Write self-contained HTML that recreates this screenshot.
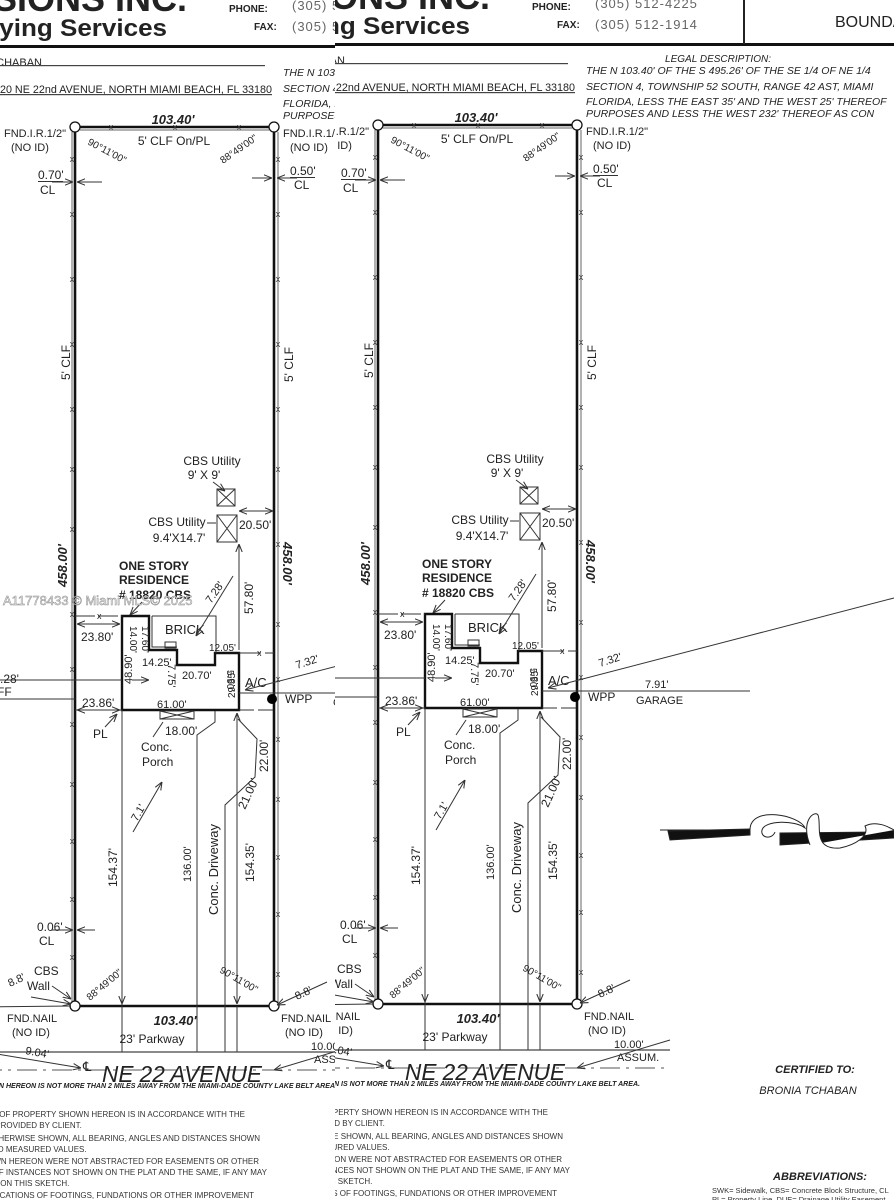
<!DOCTYPE html>
<html><head><meta charset="utf-8"><style>
html,body{margin:0;padding:0;background:#fff;}
svg{display:block;font-family:"Liberation Sans",sans-serif;}
</style></head><body>
<svg width="894" height="1200" viewBox="0 0 894 1200" xmlns="http://www.w3.org/2000/svg">
<defs>
<marker id="a" viewBox="0 0 10 10" refX="10" refY="5" markerWidth="8" markerHeight="8" orient="auto-start-reverse"><path d="M0,1 L10,5 L0,9" fill="none" stroke="#333" stroke-width="1.3"/></marker>
<clipPath id="cl"><rect x="0" y="0" width="335" height="1200"/></clipPath>
<clipPath id="cr"><rect x="335" y="0" width="559" height="1200"/></clipPath>
<g id="d" fill="#222" font-size="11">
 <text x="490" y="9" font-size="36" font-weight="bold" text-anchor="end">DIMENSIONS INC.</text>
 <text x="470" y="34" font-size="24" text-anchor="end" font-weight="bold" textLength="240" lengthAdjust="spacingAndGlyphs">Surveying Services</text>
 <text x="532" y="10" font-size="10" font-weight="bold">PHONE:</text>
 <text x="557" y="28" font-size="10" font-weight="bold">FAX:</text>
 <text x="595" y="8" font-size="13" fill="#666" letter-spacing="1">(305) 512-4225</text>
 <text x="595" y="29" font-size="13" fill="#666" letter-spacing="1">(305) 512-1914</text>
 <rect x="200" y="43" width="694" height="3" fill="#111"/>
 <text x="345" y="64" font-size="11" text-anchor="end">BRONIA TCHABAN</text>
 <rect x="200" y="63" width="368" height="1.2" fill="#444"/>
 <text x="575" y="91" font-size="11" text-anchor="end" textLength="290" lengthAdjust="spacingAndGlyphs">18820 NE 22nd AVENUE, NORTH MIAMI BEACH, FL 33180</text>
 <rect x="200" y="92" width="375" height="1.2" fill="#444"/>
 <g font-style="italic" font-size="10.5">
 <text x="718" y="62" text-anchor="middle" font-size="10">LEGAL DESCRIPTION:</text>
 <text x="586" y="74">THE N 103.40' OF THE S 495.26' OF THE SE 1/4 OF NE 1/4</text>
 <text x="586" y="90">SECTION 4, TOWNSHIP 52 SOUTH, RANGE 42 AST, MIAMI</text>
 <text x="586" y="105">FLORIDA, LESS THE EAST 35' AND THE WEST 25' THEREOF</text>
 <text x="586" y="117">PURPOSES AND LESS THE WEST 232' THEREOF AS CON</text>
 </g>
 <g stroke="#111" stroke-width="2.6" fill="none">
  <line x1="378" y1="125" x2="577" y2="125"/>
  <line x1="378" y1="125" x2="378" y2="1004"/>
  <line x1="577" y1="125" x2="577" y2="1004"/>
  <line x1="378" y1="1004" x2="577" y2="1004"/>
 </g>
 <g stroke="#666" stroke-width="1" fill="none">
  <line x1="375" y1="130" x2="375" y2="1000"/>
  <line x1="581" y1="130" x2="581" y2="1000"/>
  <line x1="383" y1="128" x2="572" y2="128"/>
 </g>
 <g font-size="9" fill="#444" text-anchor="middle">
  <text x="414" y="128">x</text><text x="478" y="128">x</text><text x="542" y="128">x</text>
  <text x="375" y="160">x</text><text x="375" y="215">x</text><text x="375" y="280">x</text><text x="375" y="345">x</text><text x="375" y="410">x</text><text x="375" y="470">x</text><text x="375" y="530">x</text><text x="375" y="615">x</text><text x="375" y="670">x</text><text x="375" y="725">x</text><text x="375" y="785">x</text><text x="375" y="842">x</text><text x="375" y="900">x</text><text x="375" y="958">x</text>
  <text x="581" y="160">x</text><text x="581" y="215">x</text><text x="581" y="280">x</text><text x="581" y="345">x</text><text x="581" y="410">x</text><text x="581" y="470">x</text><text x="581" y="545">x</text><text x="581" y="625">x</text><text x="581" y="680">x</text><text x="581" y="740">x</text><text x="581" y="800">x</text><text x="581" y="858">x</text><text x="581" y="915">x</text><text x="581" y="975">x</text>
 </g>
 <g fill="#fff" stroke="#111" stroke-width="1.3">
  <circle cx="378" cy="125" r="5"/><circle cx="577" cy="125" r="5"/>
  <circle cx="378" cy="1004" r="5"/><circle cx="577" cy="1004" r="5"/>
 </g>
 <text x="476" y="122" font-size="13" font-weight="bold" font-style="italic" text-anchor="middle">103.40'</text>
 <text x="477" y="143" font-size="12" text-anchor="middle">5' CLF On/PL</text>
 <text transform="translate(390,142) rotate(28)" font-size="10">90°11'00"</text>
 <text transform="translate(526,162) rotate(-35)" font-size="10">88°49'00"</text>
 <text x="307" y="135">FND.I.R.1/2"</text><text x="314" y="149">(NO ID)</text>
 <text x="586" y="135">FND.I.R.1/2"</text><text x="593" y="149">(NO ID)</text>
 <text x="341" y="177" font-size="12">0.70'</text><rect x="341" y="179" width="25" height="1" fill="#333"/>
 <text x="343" y="192" font-size="12">CL</text>
 <line x1="355" y1="180" x2="376" y2="180" stroke="#333" marker-end="url(#a)"/>
 <line x1="405" y1="180" x2="380" y2="180" stroke="#333" marker-end="url(#a)"/>
 <text x="593" y="173" font-size="12">0.50'</text><rect x="593" y="175" width="25" height="1" fill="#333"/>
 <text x="597" y="187" font-size="12">CL</text>
 <line x1="555" y1="176" x2="575" y2="176" stroke="#333" marker-end="url(#a)"/>
 <line x1="600" y1="176" x2="580" y2="176" stroke="#333" marker-end="url(#a)"/>
 <text transform="translate(373,378) rotate(-90)" font-size="12">5' CLF</text>
 <text transform="translate(596,380) rotate(-90)" font-size="12">5' CLF</text>
 <text transform="translate(370,585) rotate(-90)" font-size="13" font-weight="bold" font-style="italic">458.00'</text>
 <text transform="translate(586,540) rotate(90)" font-size="13" font-weight="bold" font-style="italic">458.00'</text>
 <text x="515" y="463" font-size="12" text-anchor="middle">CBS Utility</text>
 <text x="507" y="477" font-size="12" text-anchor="middle">9' X 9'</text>
 <g stroke="#333" stroke-width="1" fill="none">
  <rect x="520" y="487" width="18" height="17"/><path d="M520,487 L538,504 M538,487 L520,504"/>
  <rect x="520" y="513" width="20" height="27"/><path d="M520,513 L540,540 M540,513 L520,540"/>
 </g>
 <line x1="516" y1="480" x2="528" y2="489" stroke="#333" marker-end="url(#a)"/>
 <text x="480" y="524" font-size="12" text-anchor="middle">CBS Utility</text>
 <text x="482" y="540" font-size="12" text-anchor="middle">9.4'X14.7'</text>
 <line x1="510" y1="521" x2="519" y2="521" stroke="#333"/>
 <line x1="560" y1="509" x2="542" y2="509" stroke="#333" marker-end="url(#a)"/>
 <line x1="560" y1="509" x2="576" y2="509" stroke="#333" marker-end="url(#a)"/>
 <text x="542" y="527" font-size="12">20.50'</text>
 <g font-weight="bold" font-size="12">
  <text x="422" y="568">ONE STORY</text><text x="422" y="582">RESIDENCE</text><text x="422" y="597"># 18820 CBS</text>
 </g>
 <line x1="445" y1="600" x2="433" y2="613" stroke="#333" marker-end="url(#a)"/>
 <path d="M425,614 L452,614 L452,648 L480,648 L480,663 L518,663 L518,651 L542,651 L542,708 L425,708 Z" fill="none" stroke="#111" stroke-width="2.4"/>
 <path d="M455,614 L519,614 L519,651 M455,614 L455,645 L480,645" fill="none" stroke="#333" stroke-width="1"/>
 <rect x="468" y="640" width="11" height="6" fill="none" stroke="#333"/>
 <text x="468" y="632" font-size="13">BRICK</text>
 <line x1="536" y1="574" x2="499" y2="634" stroke="#333" marker-end="url(#a)"/>
 <text transform="translate(514,602) rotate(-55)" font-size="11">7.28'</text>
 <line x1="378" y1="614" x2="425" y2="614" stroke="#333" stroke-dasharray="20,3"/>
 <text x="400" y="617" font-size="9">x</text>
 <line x1="400" y1="622" x2="380" y2="622" stroke="#333" marker-end="url(#a)"/>
 <line x1="400" y1="622" x2="423" y2="622" stroke="#333" marker-end="url(#a)"/>
 <text x="384" y="639" font-size="12">23.80'</text>
 <text transform="translate(433,624) rotate(90)" font-size="10">14.00'</text>
 <text transform="translate(445,624) rotate(90)" font-size="10">17.60'</text>
 <line x1="542" y1="651" x2="577" y2="651" stroke="#333" stroke-dasharray="22,4"/>
 <text x="560" y="654" font-size="9">x</text>
 <text x="512" y="649" font-size="10">12.05'</text>
 <line x1="542" y1="648" x2="542" y2="542" stroke="#333" marker-end="url(#a)"/>
 <text transform="translate(556,612) rotate(-90)" font-size="12">57.80'</text>
 <text x="445" y="664" font-size="11">14.25'</text>
 <text transform="translate(471,662) rotate(90)" font-size="11">7.75'</text>
 <text x="485" y="677" font-size="11">20.70'</text>
 <text transform="translate(435,682) rotate(-90)" font-size="11">48.90'</text>
 <line x1="435" y1="678" x2="452" y2="678" stroke="#333" marker-end="url(#a)"/>
 <text transform="translate(530,668) rotate(90)" font-size="10">5.90'</text>
 <text transform="translate(538,696) rotate(-90)" font-size="10">29.35'</text>
 <line x1="300" y1="678" x2="425" y2="678" stroke="#333"/>
 <text x="303" y="681" font-size="12">.28'</text>
 <text x="300" y="694" font-size="12">FF</text>
 <text x="548" y="685" font-size="13">A/C</text>
 <line x1="894" y1="598" x2="548" y2="688" stroke="#333" marker-end="url(#a)"/>
 <text transform="translate(600,667) rotate(-18)" font-size="11">7.32'</text>
 <line x1="542" y1="691" x2="750" y2="691" stroke="#333"/>
 <circle cx="575" cy="697" r="5" fill="#000"/>
 <text x="588" y="701" font-size="12">WPP</text>
 <text x="645" y="688" font-size="11">7.91'</text>
 <text x="636" y="704" font-size="11">GARAGE</text>
 <line x1="300" y1="697" x2="378" y2="697" stroke="#333"/>
 <line x1="542" y1="708" x2="577" y2="708" stroke="#333" stroke-dasharray="15,4"/>
 <line x1="378" y1="708" x2="425" y2="708" stroke="#333"/>
 <line x1="400" y1="708" x2="380" y2="708" stroke="#333" marker-end="url(#a)"/>
 <line x1="405" y1="708" x2="423" y2="708" stroke="#333" marker-end="url(#a)"/>
 <text x="385" y="705" font-size="12">23.86'</text>
 <text x="396" y="736" font-size="12">PL</text>
 <line x1="408" y1="725" x2="420" y2="712" stroke="#333" marker-end="url(#a)"/>
 <text x="460" y="706" font-size="11">61.00'</text>
 <rect x="463" y="709" width="34" height="8" fill="none" stroke="#333"/>
 <path d="M463,709 L497,717 M497,709 L463,717" stroke="#333"/>
 <text x="468" y="733" font-size="12">18.00'</text>
 <line x1="456" y1="735" x2="466" y2="720" stroke="#333"/>
 <text x="444" y="749" font-size="12">Conc.</text>
 <text x="445" y="764" font-size="12">Porch</text>
 <g stroke="#333" stroke-width="1" fill="none">
  <path d="M518,709 L518,720 L500,733 L500,1050"/>
  <path d="M541,717 L560,737 L558,775 L528,803 L528,1050"/>
  <line x1="425" y1="708" x2="425" y2="1050"/>
  <line x1="540" y1="1004" x2="540" y2="1050"/>
 </g>
 <line x1="425" y1="712" x2="425" y2="1002" stroke="#333" marker-end="url(#a)"/>
 <line x1="540" y1="760" x2="540" y2="1002" stroke="#333" marker-end="url(#a)"/>
 <line x1="540" y1="800" x2="540" y2="711" stroke="#333" marker-end="url(#a)"/>
 <line x1="436" y1="830" x2="465" y2="780" stroke="#333" marker-end="url(#a)"/>
 <text transform="translate(440,820) rotate(-60)" font-size="11">7.1'</text>
 <text transform="translate(420,885) rotate(-90)" font-size="12">154.37'</text>
 <text transform="translate(494,880) rotate(-90)" font-size="11">136.00'</text>
 <text transform="translate(521,913) rotate(-90)" font-size="13">Conc.  Driveway</text>
 <text transform="translate(557,880) rotate(-90)" font-size="12">154.35'</text>
 <text transform="translate(571,770) rotate(-90)" font-size="12">22.00'</text>
 <text transform="translate(548,808) rotate(-65)" font-size="12">21.00'</text>
 <text x="340" y="929" font-size="12">0.06'</text>
 <text x="342" y="943" font-size="12">CL</text>
 <line x1="355" y1="928" x2="376" y2="928" stroke="#333" marker-end="url(#a)"/>
 <line x1="398" y1="928" x2="380" y2="928" stroke="#333" marker-end="url(#a)"/>
 <text x="337" y="973" font-size="12">CBS</text>
 <text x="330" y="988" font-size="12">Wall</text>
 <line x1="355" y1="984" x2="374" y2="997" stroke="#333" marker-end="url(#a)"/>
 <line x1="334" y1="995" x2="374" y2="1002" stroke="#333" marker-end="url(#a)"/>
 <line x1="286" y1="1005" x2="374" y2="1004" stroke="#333"/>
 <text transform="translate(313,985) rotate(-25)" font-size="11">8.8'</text>
 <text transform="translate(393,999) rotate(-40)" font-size="10">88°49'00"</text>
 <text transform="translate(522,970) rotate(30)" font-size="10">90°11'00"</text>
 <line x1="630" y1="980" x2="580" y2="1003" stroke="#333" marker-end="url(#a)"/>
 <text transform="translate(600,998) rotate(-25)" font-size="11">8.8'</text>
 <text x="310" y="1020" font-size="11">FND.NAIL</text><text x="315" y="1034" font-size="11">(NO ID)</text>
 <text x="584" y="1020" font-size="11">FND.NAIL</text><text x="588" y="1034" font-size="11">(NO ID)</text>
 <text x="478" y="1023" font-size="13" font-weight="bold" font-style="italic" text-anchor="middle">103.40'</text>
 <text x="455" y="1041" font-size="12" text-anchor="middle">23' Parkway</text>
 <line x1="250" y1="1050" x2="670" y2="1050" stroke="#444" stroke-width="1.2"/>
 <line x1="250" y1="1068" x2="670" y2="1068" stroke="#555" stroke-dasharray="20,6,3,6"/>
 <text x="328" y="1052" font-size="11" transform="rotate(10,328,1052)">9.04'</text>
 <line x1="300" y1="1052" x2="384" y2="1066" stroke="#333" marker-end="url(#a)"/>
 <text x="614" y="1048" font-size="11">10.00'</text>
 <text x="617" y="1061" font-size="11">ASSUM.</text>
 <line x1="670" y1="1040" x2="577" y2="1068" stroke="#333" marker-end="url(#a)"/>
 <text x="386" y="1069" font-size="13">℄</text>
 <text x="405" y="1080" font-size="23" font-style="italic" textLength="160" lengthAdjust="spacingAndGlyphs">NE  22  AVENUE</text>
 <text x="640" y="1086" font-size="7.5" font-weight="bold" font-style="italic" text-anchor="end" textLength="360" lengthAdjust="spacingAndGlyphs">SHOWN HEREON IS NOT MORE THAN 2 MILES AWAY FROM THE MIAMI-DADE COUNTY LAKE BELT AREA.</text>
 <g font-size="8" fill="#333">
  <text x="548" y="1115" text-anchor="end">1. LEGAL DESCRIPTION OF PROPERTY SHOWN HEREON IS IN ACCORDANCE WITH THE</text>
  <text x="250" y="1126">DOCUMENT PROVIDED BY CLIENT.</text>
  <text x="563" y="1139" text-anchor="end">2. UNLESS OTHERWISE SHOWN, ALL BEARING, ANGLES AND DISTANCES SHOWN</text>
  <text x="250" y="1150">ARE PLAT AND MEASURED VALUES.</text>
  <text x="562" y="1162" text-anchor="end">3. LANDS SHOWN HEREON WERE NOT ABSTRACTED FOR EASEMENTS OR OTHER</text>
  <text x="570" y="1173" text-anchor="end">RESTRICTIONS OF INSTANCES NOT SHOWN ON THE PLAT AND THE SAME, IF ANY MAY</text>
  <text x="250" y="1184">NOT APPEAR ON THIS SKETCH.</text>
  <text x="557" y="1196" text-anchor="end">4. UNDERGROUND LOCATIONS OF FOOTINGS, FUNDATIONS OR OTHER IMPROVEMENT</text>
 </g>
</g>
</defs>
<g clip-path="url(#cl)"><use href="#d" transform="translate(-303,2)"/></g>
<g clip-path="url(#cr)"><use href="#d"/></g>
<rect x="743" y="0" width="2" height="44" fill="#222"/>
<text x="835" y="27" font-size="16" fill="#222">BOUNDARY</text>
<text x="760" y="0" font-size="9" font-weight="bold">TYPE OF PROJECT</text>
<g stroke="#222" fill="none" stroke-width="1">
 <path d="M660,830 L750,830" />
 <path d="M668,831 L750,829 L750,835 L670,840 Z" fill="#111"/>
 <path d="M780,833 L880,832 L894,830 L894,838 L780,845 Z" fill="#111"/>
 <path d="M750,830 C750,805 800,815 805,828 C795,820 765,820 762,830 C760,838 772,840 775,832" fill="#fff"/>
 <path d="M810,845 C800,820 815,810 818,815 C822,825 812,850 840,848 C855,845 870,836 865,826 C878,820 890,828 894,830" fill="#fff"/>
</g>
<text x="815" y="1073" font-size="11" font-weight="bold" font-style="italic" text-anchor="middle" fill="#222">CERTIFIED TO:</text>
<text x="808" y="1094" font-size="11" font-style="italic" text-anchor="middle" fill="#222">BRONIA TCHABAN</text>
<text x="820" y="1180" font-size="11" font-weight="bold" font-style="italic" text-anchor="middle" fill="#222">ABBREVIATIONS:</text>
<text x="712" y="1193" font-size="7.5" fill="#333">SWK= Sidewalk, CBS= Concrete Block Structure, CL</text>
<text x="712" y="1202" font-size="7.5" fill="#333">PL= Property Line, DUE= Drainage Utility Easement</text>
<text x="3" y="605" font-size="13" fill="#f4f4f4" stroke="#8a8a8a" stroke-width="0.5">A11778433 © Miami MLS© 2025</text>
</svg>
</body></html>
